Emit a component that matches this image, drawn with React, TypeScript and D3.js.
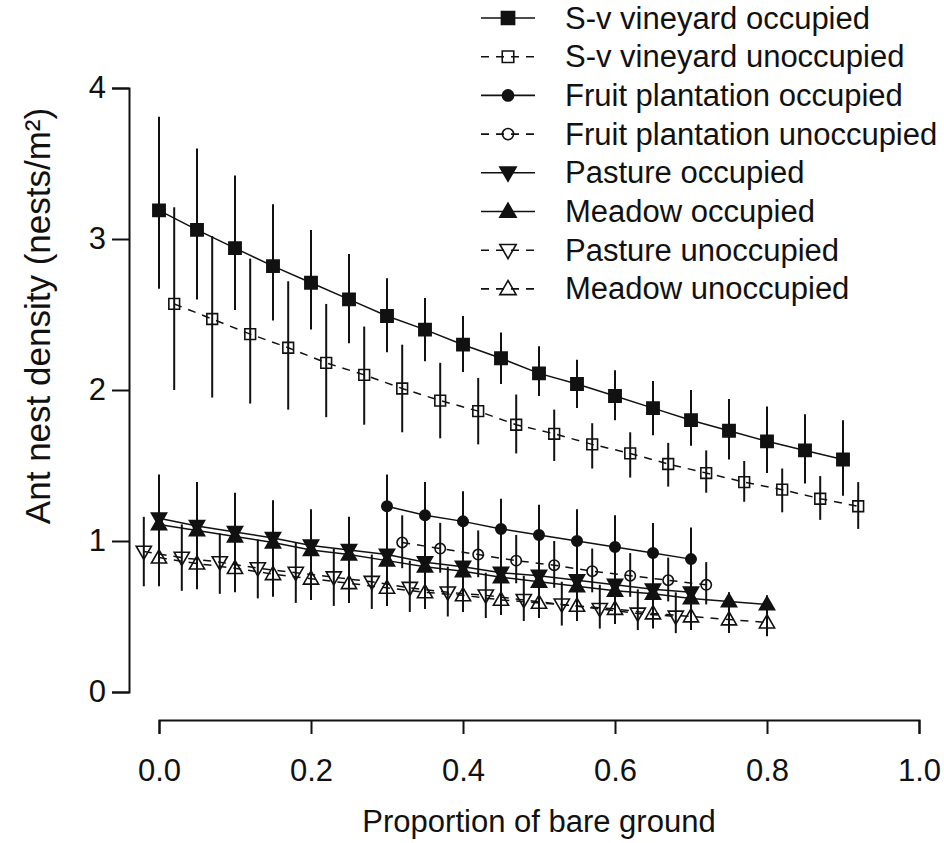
import * as d3 from 'd3';
import React, { useEffect, useRef } from 'react';

// S-v vineyard
const svOccX = [0, 0.05, 0.1, 0.15, 0.2, 0.25, 0.3, 0.35, 0.4, 0.45, 0.5, 0.55, 0.6, 0.65, 0.7, 0.75, 0.8, 0.85, 0.9];
const svOccMean = [3.19, 3.06, 2.94, 2.82, 2.71, 2.6, 2.49, 2.4, 2.3, 2.21, 2.11, 2.04, 1.96, 1.88, 1.8, 1.73, 1.66, 1.6, 1.54];
const svOccLo = [2.67, 2.6, 2.53, 2.46, 2.4, 2.31, 2.25, 2.19, 2.12, 2.04, 1.96, 1.88, 1.8, 1.7, 1.63, 1.54, 1.45, 1.38, 1.3];
const svOccHi = [3.81, 3.6, 3.42, 3.23, 3.06, 2.9, 2.74, 2.61, 2.49, 2.38, 2.29, 2.2, 2.13, 2.06, 2.0, 1.94, 1.89, 1.84, 1.8];

const svUnoX = [0.02, 0.07, 0.12, 0.17, 0.22, 0.27, 0.32, 0.37, 0.42, 0.47, 0.52, 0.57, 0.62, 0.67, 0.72, 0.77, 0.82, 0.87, 0.92];
const svUnoMean = [2.57, 2.47, 2.37, 2.28, 2.18, 2.1, 2.01, 1.93, 1.86, 1.77, 1.71, 1.64, 1.58, 1.51, 1.45, 1.39, 1.34, 1.28, 1.23];
const svUnoLo = [2.0, 1.95, 1.91, 1.87, 1.82, 1.77, 1.72, 1.68, 1.64, 1.58, 1.53, 1.48, 1.42, 1.36, 1.32, 1.26, 1.19, 1.14, 1.08];
const svUnoHi = [3.21, 3.02, 2.87, 2.72, 2.57, 2.42, 2.3, 2.18, 2.08, 1.97, 1.87, 1.78, 1.72, 1.65, 1.6, 1.53, 1.48, 1.43, 1.39];

// Fruit plantation
const fruitOccX = [0.3, 0.35, 0.4, 0.45, 0.5, 0.55, 0.6, 0.65, 0.7];
const fruitOccMean = [1.23, 1.17, 1.13, 1.08, 1.04, 1.0, 0.96, 0.92, 0.88];
const fruitOccLo = [1.05, 0.99, 0.96, 0.91, 0.87, 0.83, 0.79, 0.76, 0.71];
const fruitOccHi = [1.44, 1.39, 1.33, 1.28, 1.24, 1.21, 1.17, 1.12, 1.09];

const fruitUnoX = [0.32, 0.37, 0.42, 0.47, 0.52, 0.57, 0.62, 0.67, 0.72];
const fruitUnoMean = [0.99, 0.95, 0.91, 0.87, 0.84, 0.8, 0.77, 0.74, 0.71];
const fruitUnoLo = [0.82, 0.79, 0.76, 0.72, 0.69, 0.66, 0.63, 0.6, 0.58];
const fruitUnoHi = [1.17, 1.12, 1.07, 1.04, 1.0, 0.95, 0.92, 0.89, 0.86];

// Pasture
const pastOccX = [0, 0.05, 0.1, 0.15, 0.2, 0.25, 0.3, 0.35, 0.4, 0.45, 0.5, 0.55, 0.6, 0.65, 0.7];
const pastOccMean = [1.15, 1.1, 1.06, 1.02, 0.97, 0.94, 0.91, 0.86, 0.83, 0.79, 0.77, 0.74, 0.71, 0.68, 0.66];
const pastOccLo = [0.92, 0.88, 0.85, 0.82, 0.78, 0.76, 0.74, 0.7, 0.68, 0.65, 0.63, 0.61, 0.58, 0.56, 0.54];
const pastOccHi = [1.44, 1.39, 1.32, 1.27, 1.21, 1.16, 1.12, 1.07, 1.03, 0.99, 0.96, 0.93, 0.9, 0.87, 0.84];

const pastUnoX = [-0.02, 0.03, 0.08, 0.13, 0.18, 0.23, 0.28, 0.33, 0.38, 0.43, 0.48, 0.53, 0.58, 0.63, 0.68];
const pastUnoMean = [0.93, 0.89, 0.86, 0.82, 0.79, 0.76, 0.73, 0.69, 0.66, 0.64, 0.61, 0.58, 0.55, 0.52, 0.5];
const pastUnoLo = [0.7, 0.67, 0.65, 0.62, 0.59, 0.57, 0.55, 0.53, 0.5, 0.49, 0.47, 0.44, 0.42, 0.41, 0.39];
const pastUnoHi = [1.16, 1.11, 1.05, 1.01, 0.99, 0.95, 0.91, 0.87, 0.83, 0.79, 0.77, 0.73, 0.71, 0.68, 0.66];

// Meadow
const meadOccX = [0, 0.05, 0.1, 0.15, 0.2, 0.25, 0.3, 0.35, 0.4, 0.45, 0.5, 0.55, 0.6, 0.65, 0.7, 0.75, 0.8];
const meadOccMean = [1.11, 1.07, 1.03, 0.99, 0.94, 0.91, 0.87, 0.83, 0.8, 0.76, 0.73, 0.7, 0.67, 0.65, 0.62, 0.6, 0.58];
const meadOccLo = [1.01, 0.97, 0.94, 0.9, 0.85, 0.83, 0.79, 0.75, 0.73, 0.69, 0.66, 0.64, 0.61, 0.59, 0.56, 0.55, 0.53];
const meadOccHi = [1.22, 1.18, 1.13, 1.09, 1.03, 1.0, 0.96, 0.91, 0.88, 0.84, 0.8, 0.77, 0.74, 0.72, 0.68, 0.66, 0.64];

const meadUnoX = [0, 0.05, 0.1, 0.15, 0.2, 0.25, 0.3, 0.35, 0.4, 0.45, 0.5, 0.55, 0.6, 0.65, 0.7, 0.75, 0.8];
const meadUnoMean = [0.89, 0.85, 0.82, 0.78, 0.75, 0.72, 0.69, 0.66, 0.64, 0.61, 0.59, 0.57, 0.55, 0.52, 0.5, 0.48, 0.46];
const meadUnoLo = [0.7, 0.68, 0.66, 0.63, 0.61, 0.59, 0.57, 0.55, 0.53, 0.51, 0.49, 0.47, 0.45, 0.42, 0.41, 0.39, 0.37];
const meadUnoHi = [1.1, 1.05, 1.01, 0.97, 0.93, 0.89, 0.85, 0.82, 0.79, 0.76, 0.73, 0.71, 0.68, 0.65, 0.62, 0.6, 0.58];

const xTicks = [0, 0.2, 0.4, 0.6, 0.8, 1.0];
const yTicks = [0, 1, 2, 3, 4];

const series = [
    { name: 'S-v vineyard occupied', xs: svOccX, m: svOccMean, lo: svOccLo, hi: svOccHi, shape: 'square', filled: true, dashed: false },
    { name: 'S-v vineyard unoccupied', xs: svUnoX, m: svUnoMean, lo: svUnoLo, hi: svUnoHi, shape: 'square', filled: false, dashed: true },
    { name: 'Fruit plantation occupied', xs: fruitOccX, m: fruitOccMean, lo: fruitOccLo, hi: fruitOccHi, shape: 'circle', filled: true, dashed: false },
    { name: 'Fruit plantation unoccupied', xs: fruitUnoX, m: fruitUnoMean, lo: fruitUnoLo, hi: fruitUnoHi, shape: 'circle', filled: false, dashed: true },
    { name: 'Pasture occupied', xs: pastOccX, m: pastOccMean, lo: pastOccLo, hi: pastOccHi, shape: 'down', filled: true, dashed: false },
    { name: 'Meadow occupied', xs: meadOccX, m: meadOccMean, lo: meadOccLo, hi: meadOccHi, shape: 'up', filled: true, dashed: false },
    { name: 'Pasture unoccupied', xs: pastUnoX, m: pastUnoMean, lo: pastUnoLo, hi: pastUnoHi, shape: 'down', filled: false, dashed: true },
    { name: 'Meadow unoccupied', xs: meadUnoX, m: meadUnoMean, lo: meadUnoLo, hi: meadUnoHi, shape: 'up', filled: false, dashed: true },
];

const FONT = '"Liberation Sans", Arial, sans-serif';
const INK = '#111';

function drawMarker(g, s, cx, cy, legend = false) {
    const sizes = { square: s.filled ? 150 : 115, circle: 85, down: 100, up: 100 };
    const types = { square: d3.symbolSquare, circle: d3.symbolCircle, down: d3.symbolTriangle, up: d3.symbolTriangle };
    const rot = s.shape === 'down' ? 180 : 0;
    const dy = s.shape === 'down' ? -1 : s.shape === 'up' ? 1 : 0;
    g.append('path')
        .attr('d', d3.symbol().type(types[s.shape]).size(sizes[s.shape] * (legend ? 1.15 : 1))())
        .attr('transform', `translate(${cx},${cy + dy}) rotate(${rot})`)
        .attr('fill', s.filled ? INK : 'none')
        .attr('stroke', INK)
        .attr('stroke-width', 1.6);
}

function App() {
    const ref = useRef(null);

    useEffect(() => {
        const svg = d3.select(ref.current);
        svg.selectAll('*').remove();

        const x = d3.scaleLinear().domain([0, 1]).range([159, 919]);
        const y = d3.scaleLinear().domain([0, 4]).range([692, 88]);

        // axes (R style, detached)
        const yAxis = svg.append('g')
            .attr('transform', 'translate(129,0)')
            .call(d3.axisLeft(y).tickValues(yTicks).tickSize(17).tickPadding(6).tickFormat(d3.format('d')));
        const xAxis = svg.append('g')
            .attr('transform', 'translate(0,720)')
            .call(d3.axisBottom(x).tickValues(xTicks).tickSize(14).tickPadding(25).tickFormat(d3.format('.1f')));
        [yAxis, xAxis].forEach(a => {
            a.selectAll('path, line').attr('stroke', INK).attr('stroke-width', 2);
            a.selectAll('text').attr('font-family', FONT).attr('font-size', 31).attr('fill', INK);
        });

        svg.append('text')
            .attr('x', 539).attr('y', 832)
            .attr('text-anchor', 'middle')
            .attr('font-family', FONT).attr('font-size', 31).attr('fill', INK)
            .text('Proportion of bare ground');

        svg.append('text')
            .attr('transform', 'translate(37,316) rotate(-90)')
            .attr('text-anchor', 'middle')
            .attr('dominant-baseline', 'central')
            .attr('font-family', FONT).attr('font-size', 35).attr('fill', INK)
            .text('Ant nest density (nests/m²)');

        const plot = svg.append('g');

        series.forEach(s => {
            const pts = s.xs.map((v, i) => ({ x: v, m: s.m[i], lo: s.lo[i], hi: s.hi[i] }));

            plot.append('g').selectAll('line')
                .data(pts)
                .join('line')
                .attr('x1', d => x(d.x)).attr('x2', d => x(d.x))
                .attr('y1', d => y(d.lo)).attr('y2', d => y(d.hi))
                .attr('stroke', INK).attr('stroke-width', 2);

            plot.append('path')
                .datum(pts)
                .attr('d', d3.line().x(d => x(d.x)).y(d => y(d.m)))
                .attr('fill', 'none')
                .attr('stroke', INK)
                .attr('stroke-width', 1.5)
                .attr('stroke-dasharray', s.dashed ? '8,7' : null);

            const mg = plot.append('g');
            pts.forEach(d => drawMarker(mg, s, x(d.x), y(d.m)));
        });

        // legend
        const legend = svg.append('g');
        series.forEach((s, i) => {
            const ly = 18 + i * 38.7;
            legend.append('line')
                .attr('x1', 481).attr('x2', 535)
                .attr('y1', ly).attr('y2', ly)
                .attr('stroke', INK).attr('stroke-width', 1.6)
                .attr('stroke-dasharray', s.dashed ? '8,7' : null);
            drawMarker(legend, s, 508, ly, true);
            legend.append('text')
                .attr('x', 565).attr('y', ly)
                .attr('dominant-baseline', 'central')
                .attr('font-family', FONT).attr('font-size', 31).attr('fill', INK)
                .text(s.name);
        });
    }, []);

    return (
        <svg ref={ref} width={944} height={843}
            style={{ position: 'absolute', left: 0, top: 0, background: '#fff' }}></svg>
    );
}

export default App;
